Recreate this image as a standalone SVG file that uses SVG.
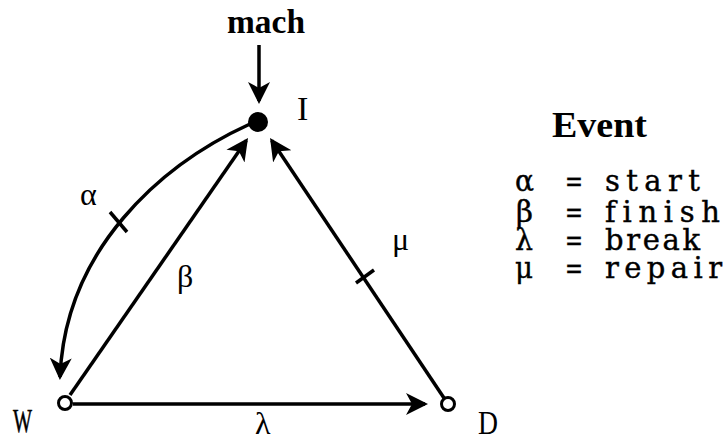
<svg xmlns="http://www.w3.org/2000/svg" width="726" height="440" viewBox="0 0 726 440">
<style>
.edge{fill:none;stroke:#000;stroke-width:3.5;marker-end:url(#ah)}
.tick{stroke:#000;stroke-width:3.5}
.lbl{font-family:"Liberation Serif",serif;font-size:34px;fill:#000}
.glab{font-family:"Liberation Serif",serif;font-size:32px;fill:#000}
.leg{font-family:"DejaVu Serif",serif;font-size:29px;fill:#000;stroke:#000;stroke-width:0.4;font-variant-ligatures:none}
.bold{font-family:"Liberation Serif",serif;font-weight:bold;fill:#000}
</style>
<defs>
<marker id="ah" markerUnits="userSpaceOnUse" markerWidth="24" markerHeight="26" viewBox="0 -12 24 24" refX="19" refY="0" orient="auto">
<path d="M0,-11 L22,0 L0,11 L6,0 Z" fill="#000"/>
</marker>
</defs>
<rect width="726" height="440" fill="#fff"/>
<g id="connectors">
<line class="edge" x1="259" y1="45" x2="259" y2="101"/>
<path class="edge" d="M250,124 C160,165 65,250 60,377"/>
<line class="edge" x1="70" y1="395" x2="246.3" y2="140.5"/>
<line class="edge" x1="444" y1="398" x2="271.7" y2="140.5"/>
<line class="edge" x1="73" y1="404" x2="425" y2="404"/>
<line class="tick" x1="110" y1="212" x2="127" y2="232"/>
<line class="tick" x1="356" y1="283" x2="374" y2="270"/>
<text class="glab" x="80" y="205">α</text>
<text class="glab" x="177" y="287">β</text>
<text class="glab" x="255" y="434">λ</text>
<text class="glab" x="392" y="250">μ</text>
</g>
<g id="mach">
<text class="bold" x="266" y="33" font-size="34" text-anchor="middle" textLength="78" lengthAdjust="spacingAndGlyphs">mach</text>
</g>
<g id="node-I">
<circle cx="258" cy="122" r="10" fill="#000"/>
<text class="lbl" x="297" y="120">I</text>
</g>
<g id="node-W">
<circle cx="65" cy="403" r="6.5" fill="#fff" stroke="#000" stroke-width="3"/>
<text class="lbl" x="13" y="432" textLength="19" lengthAdjust="spacingAndGlyphs" stroke="#000" stroke-width="0.6">W</text>
</g>
<g id="node-D">
<circle cx="448" cy="404" r="6.5" fill="#fff" stroke="#000" stroke-width="3"/>
<text class="lbl" x="478" y="434" textLength="20" lengthAdjust="spacingAndGlyphs">D</text>
</g>
<g id="legend">
<text class="bold" x="552" y="137" font-size="36" textLength="95" lengthAdjust="spacingAndGlyphs">Event</text>
<text class="leg" x="515" y="191" textLength="19" lengthAdjust="spacingAndGlyphs">α</text><text class="leg" x="565" y="191" textLength="18" lengthAdjust="spacingAndGlyphs">=</text><text class="leg" x="605" y="191" textLength="95" lengthAdjust="spacing">start</text>
<text class="leg" x="516" y="222" textLength="17" lengthAdjust="spacingAndGlyphs">β</text><text class="leg" x="565" y="222" textLength="18" lengthAdjust="spacingAndGlyphs">=</text><text class="leg" x="605" y="222" textLength="115" lengthAdjust="spacing">finish</text>
<text class="leg" x="515" y="250" textLength="18" lengthAdjust="spacingAndGlyphs">λ</text><text class="leg" x="565" y="250" textLength="18" lengthAdjust="spacingAndGlyphs">=</text><text class="leg" x="605" y="250" textLength="95" lengthAdjust="spacing">break</text>
<text class="leg" x="515" y="278" textLength="18" lengthAdjust="spacingAndGlyphs">μ</text><text class="leg" x="565" y="278" textLength="18" lengthAdjust="spacingAndGlyphs">=</text><text class="leg" x="605" y="278" textLength="117" lengthAdjust="spacing">repair</text>
</g>
</svg>
